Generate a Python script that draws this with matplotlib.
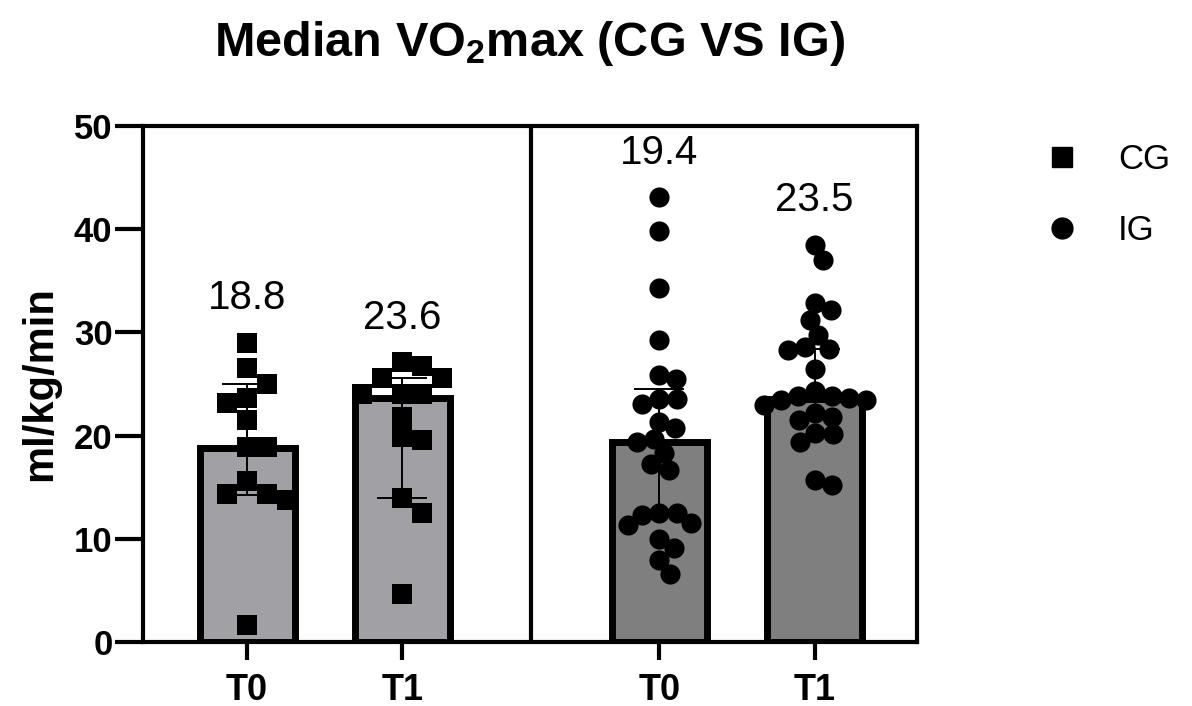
import matplotlib.pyplot as plt
from matplotlib.lines import Line2D
import numpy as np

plt.rcParams['font.family'] = ['Liberation Sans', 'DejaVu Sans']
plt.rcParams['mathtext.default'] = 'regular'

# medians with their error ranges, one entry per bar
groups = ['CG', 'CG', 'IG', 'IG']
times = ['T0', 'T1', 'T0', 'T1']
medians = [18.8, 23.6, 19.4, 23.5]
err_low = [14.2, 13.9, 12.5, 21.8]
err_high = [25.0, 25.6, 24.5, 28.4]

# individual subjects (ml/kg/min)
cg_t0 = [29.0, 26.5, 25.0, 23.6, 23.2, 21.5, 18.9, 18.9, 15.6, 14.3, 14.3, 13.8, 1.6]
cg_t1 = [27.1, 26.7, 25.6, 25.6, 24.0, 24.0, 24.0, 21.8, 19.9, 19.6, 13.9, 12.5, 4.6]
ig_t0 = [43.1, 39.8, 34.3, 29.3, 25.9, 25.5, 23.5, 23.5, 23.1, 21.3, 20.7, 19.7, 19.4,
         18.3, 17.2, 16.7, 12.5, 12.5, 12.3, 11.5, 11.3, 10.0, 9.1, 7.9, 6.6]
ig_t1 = [38.5, 37.0, 32.8, 32.2, 31.2, 29.7, 28.6, 28.4, 28.3, 26.4, 24.3, 23.8, 23.8,
         23.6, 23.4, 23.4, 23.0, 22.2, 21.8, 21.5, 20.2, 20.1, 19.4, 15.7, 15.2]
points = [cg_t0, cg_t1, ig_t0, ig_t1]

xpos = [0, 1, 2.658, 3.658]
fills = {'CG': '#a1a1a5', 'IG': '#7f7f7f'}
markers = {'CG': 's', 'IG': 'o'}

fig = plt.figure(figsize=(11.92, 7.06), dpi=100)
ax = fig.add_axes([0.12, 0.0907, 0.649, 0.731])
ax.set_xlim(-0.671, 4.316)
ax.set_ylim(0, 50)

ax.bar(xpos, medians, width=0.613, color=[fills[g] for g in groups],
       edgecolor='black', linewidth=5, zorder=2)

med = np.array(medians)
yerr = [med - np.array(err_low), np.array(err_high) - med]
ax.errorbar(xpos, medians, yerr=yerr, fmt='none', ecolor='black',
            elinewidth=1.4, capsize=18, capthick=1.4, zorder=3)


def swarm(x0, values, size_px, square):
    # spread points sideways so markers don't sit on top of each other
    placed = []
    out = []
    for v in values:
        px, py = ax.transData.transform((x0, v))
        k = 0
        while True:
            offs = [0] if k == 0 else [k, -k]
            done = False
            for off in offs:
                cx = px + off
                ok = True
                for qx, qy in placed:
                    dx, dy = abs(cx - qx), abs(py - qy)
                    d = max(dx, dy) if square else np.hypot(dx, dy)
                    if d < size_px:
                        ok = False
                        break
                if ok:
                    placed.append((cx, py))
                    out.append(ax.transData.inverted().transform((cx, py))[0])
                    done = True
                    break
            if done:
                break
            k += 1
    return out


for x0, g, vals in zip(xpos, groups, points):
    square = markers[g] == 's'
    ms = 15 if square else 14.5
    overlap = 0.92 if square else 0.85
    xs = swarm(x0, vals, ms * 100 / 72 * overlap, square)
    ax.scatter(xs, vals, marker=markers[g], s=ms ** 2, color='black',
               linewidths=0, zorder=4)

for x0, m, vals in zip(xpos, medians, points):
    ax.annotate(f"{m:.1f}", (x0, max(vals)), xytext=(0, 32),
                textcoords='offset points', ha='center', va='center',
                fontsize=29)

# separator between the two groups
ax.axvline((xpos[1] + xpos[2]) / 2, color='black', lw=3, zorder=1)

for s in ax.spines.values():
    s.set_linewidth(3)

ax.set_yticks(range(0, 51, 10))
ax.set_xticks(xpos)
ax.set_xticklabels(times)
ax.tick_params(axis='y', length=20, width=3, pad=2, labelsize=25)
ax.tick_params(axis='x', length=13, width=3, pad=9, labelsize=26)
for lab in ax.get_xticklabels() + ax.get_yticklabels():
    lab.set_fontweight('bold')

ax.set_ylabel('ml/kg/min', fontsize=30, fontweight='bold', labelpad=10)
ax.set_title('Median VO$_2$max (CG VS IG)', fontsize=35, fontweight='bold', pad=50)

handles = [Line2D([], [], marker=markers[g], ls='none', color='black',
                  ms=14 if g == 'CG' else 15) for g in ['CG', 'IG']]
fig.legend(handles, ['CG', 'IG'], loc='upper left',
           bbox_to_anchor=(1045 / 1192, 1 - 143 / 706), frameon=False,
           fontsize=25, handlelength=1, handletextpad=1.1, borderpad=0,
           borderaxespad=0, labelspacing=1.1)

fig.savefig('out.png', dpi=100)
